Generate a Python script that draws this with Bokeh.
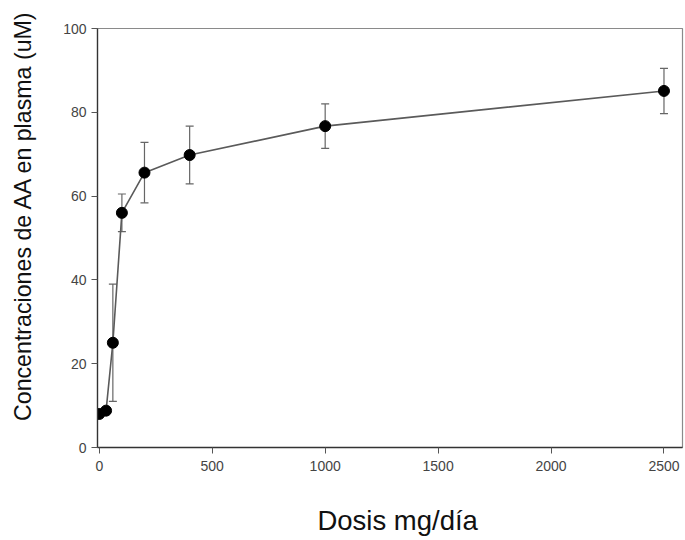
from bokeh.plotting import figure
from bokeh.models import ColumnDataSource, Whisker, TeeHead, FixedTicker, Range1d
from bokeh.embed import file_html
from bokeh.resources import INLINE

dose = [0, 30, 60, 100, 200, 400, 1000, 2500]
conc = [8.0, 8.8, 25.0, 56.0, 65.6, 69.8, 76.7, 85.1]
err = [0.0, 0.0, 14.0, 4.5, 7.2, 6.9, 5.3, 5.4]
x_ticks = [0, 500, 1000, 1500, 2000, 2500]
y_ticks = [0, 20, 40, 60, 80, 100]
x_title = "Dosis mg/día"
y_title = "Concentraciones de AA en plasma (uM)"

FONT = "Liberation Sans"
NB = "\u00a0"

p = figure(width=685, height=540, output_backend="svg", toolbar_location=None,
           x_range=Range1d(-8, 2582), y_range=Range1d(0, 100),
           min_border_left=97, min_border_right=3, min_border_top=28, min_border_bottom=93)
p.background_fill_color = "white"
p.border_fill_color = "white"
p.outline_line_color = "#8a8a8a"
p.outline_line_width = 1.2
p.xgrid.visible = False
p.ygrid.visible = False

for ax, ticks in ((p.xaxis, x_ticks), (p.yaxis, y_ticks)):
    ax.ticker = FixedTicker(ticks=ticks)
    ax.minor_tick_line_color = None
    ax.major_tick_in = 0
    ax.major_tick_out = 6
    ax.axis_line_color = "#333333"
    ax.axis_line_width = 1.3
    ax.major_tick_line_color = "#555555"
    ax.major_label_text_font = FONT
    ax.major_label_text_font_size = "14px"
    ax.major_label_text_color = "#444444"
    ax.axis_label_text_font = FONT
    ax.axis_label_text_font_style = "normal"
    ax.axis_label_text_color = "#111111"
p.xaxis.major_label_standoff = 7
p.yaxis.major_label_standoff = 5

p.xaxis.axis_label = NB * 2 + x_title
p.xaxis.axis_label_text_font_size = "27.5px"
p.xaxis.axis_label_standoff = 31

p.yaxis.axis_label = NB * 7 + y_title
p.yaxis.axis_label_text_font_size = "23.2px"
p.yaxis.axis_label_standoff = 24

xs = [d for d, e in zip(dose, err) if e > 0]
lo = [c - e for c, e in zip(conc, err) if e > 0]
hi = [c + e for c, e in zip(conc, err) if e > 0]
wsrc = ColumnDataSource(data=dict(x=xs, lower=lo, upper=hi))
w = Whisker(source=wsrc, base="x", lower="lower", upper="upper",
            line_color="#666666", line_width=1.2,
            upper_head=TeeHead(size=8, line_color="#666666", line_width=1.2),
            lower_head=TeeHead(size=8, line_color="#666666", line_width=1.2))
p.add_layout(w)

src = ColumnDataSource(data=dict(x=dose, y=conc))
p.line("x", "y", source=src, line_color="#5a5a5a", line_width=1.6)
p.scatter("x", "y", source=src, size=11, fill_color="black", line_color="black")

open("out.html", "w").write(file_html(p, INLINE))
